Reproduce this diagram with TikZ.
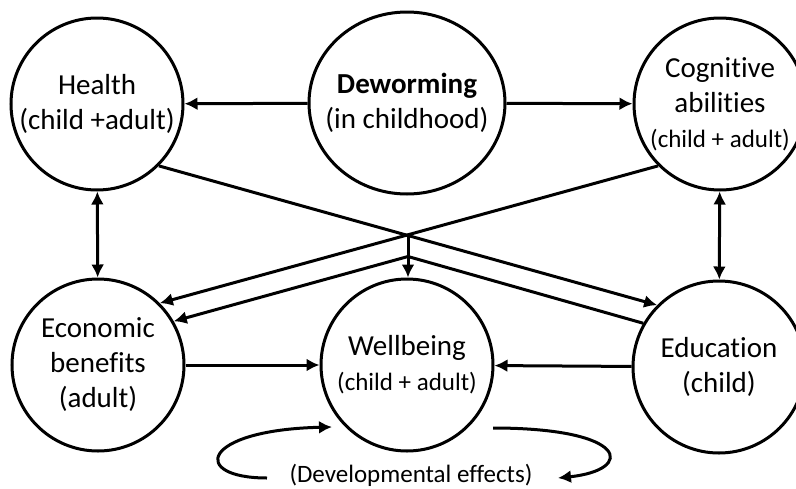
\documentclass[tikz,border=0pt]{standalone}
\usepackage{fontspec}
\setmainfont{Carlito}[Ligatures=NoCommon]
\usepackage{tikz}
\usetikzlibrary{arrows.meta,positioning,calc,shapes.geometric}
\tikzset{>={Latex[length=13pt,width=13pt]}}
\newcommand\subsize{\fontsize{25}{30}\selectfont}

\begin{document}
\begin{tikzpicture}[%
                    x=1pt,y=-1pt,
                    line width=3pt,
                    factor/.style={draw,circle,minimum size=172pt,inner sep=0,align=center,
                                   font=\fontsize{29}{35}\selectfont},
                    source/.style={draw,ellipse,minimum width=196pt,minimum height=182pt,
                                   inner xsep=-25pt,inner ysep=0,align=center,
                                   font=\fontsize{29}{35}\selectfont}
        ]
    \useasboundingbox (0,0) rectangle (796,488);
    \node[factor] (health) at (97,104) {Health\\(child +adult)};
    \node[source] (dewo) at (407,103) {\textbf{Deworming}\\(in childhood)};
    \node[factor] (cog) at (720,104) {Cognitive\\abilities\\{\subsize(child + adult)}};
    \node[factor] (econ) at (98,365) {Economic\\benefits\\(adult)};
    \node[factor] (well) at (407,365) {Wellbeing\\{\subsize(child + adult)}};
    \node[factor] (edu) at (719,367) {Education\\(child)};
    \node[anchor=base,font=\subsize] (dev) at (411,482) {(Developmental effects)};
\path[->]
    (dewo) edge (health)
    (dewo) edge (cog)
    (econ) edge (well)
    (edu) edge (well)
    (health.-45) edge (edu.135)
    (cog.-135) edge (econ.45);
\path[<->]
    (health) edge (econ)
    (cog) edge (edu);
\coordinate (cross) at ($(health.-45)!.5!(edu.135)$);
\coordinate (join) at ($(cross)+(0,21)$);
\draw[->] (cross) -- (cross |- well.north);
\draw[->] (edu.150) -- (join) -- (econ.30);
% developmental loops
\coordinate (devL1) at (267,478);
\coordinate (devL2) at (332,427);
\coordinate (devR1) at (493,428);
\coordinate (devR2) at (558,478);
\draw[->] (devL1) .. controls (190,478) and (200,430) .. (devL2);
\draw[->] (devR1) .. controls (630,428) and (635,470) .. (devR2);
\end{tikzpicture}
\end{document}
